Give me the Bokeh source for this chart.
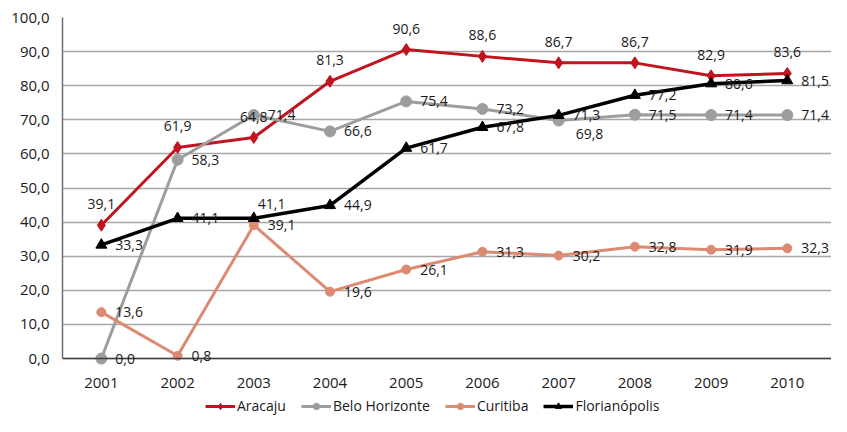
from bokeh.plotting import figure
from bokeh.models import (ColumnDataSource, LabelSet, Legend, LegendItem,
                          CustomJSTickFormatter, FixedTicker, Range1d, LinearAxis)
from bokeh.core.properties import value
from bokeh.embed import file_html
from bokeh.resources import INLINE

years = [2001, 2002, 2003, 2004, 2005, 2006, 2007, 2008, 2009, 2010]
aracaju = [39.1, 61.9, 64.8, 81.3, 90.6, 88.6, 86.7, 86.7, 82.9, 83.6]
belo_horizonte = [0.0, 58.3, 71.4, 66.6, 75.4, 73.2, 69.8, 71.5, 71.4, 71.4]
curitiba = [13.6, 0.8, 39.1, 19.6, 26.1, 31.3, 30.2, 32.8, 31.9, 32.3]
florianopolis = [33.3, 41.1, 41.1, 44.9, 61.7, 67.8, 71.3, 77.2, 80.6, 81.5]
y_ticks = [0, 10, 20, 30, 40, 50, 60, 70, 80, 90, 100]

# label placement (screen pixels), kept apart from the data
off_ara = ([0] * 10, [21] * 10)
off_belo = ([14, 14, 14, 14, 14, 14, 17, 14, 14, 14], [0, 0, 0, 0, 0, 0, -14, 0, 0, 0])
off_curi = ([14] * 10, [0] * 10)
off_flo = ([14, 14, 4, 14, 14, 14, 14, 14, 14, 14], [0, 0, 14, 0, 0, 0, 0, 0, 0, 0])

FONT = "Open Sans"
TXT = "#1a1a1a"

# The frame reaches the bottom of the canvas so that the x-axis (fixed at 0),
# the labels near 0 and the legend are all drawn inside it without clipping.
p = figure(width=831, height=416, output_backend="svg", toolbar_location=None,
           x_range=Range1d(2000.49, 2010.58), y_range=Range1d(-17.0, 100),
           x_axis_location=None, y_axis_location=None,
           min_border_left=62, min_border_right=0, min_border_top=17, min_border_bottom=0)
p.outline_line_color = None
p.background_fill_color = "white"
p.border_fill_color = "white"

yax = LinearAxis(ticker=FixedTicker(ticks=y_ticks), bounds=(0, 100),
                 formatter=CustomJSTickFormatter(code="return tick.toFixed(1).replace('.', ',');"))
yax.axis_line_color = "#6e6e6e"
yax.axis_line_width = 1.5
yax.major_label_standoff = 7
p.add_layout(yax, "left")

xax = LinearAxis(ticker=FixedTicker(ticks=years), fixed_location=0,
                 formatter=CustomJSTickFormatter(code="return tick.toFixed(0);"))
xax.axis_line_color = "#404040"
xax.axis_line_width = 1.5
xax.major_label_standoff = 13
p.add_layout(xax, "below")

for ax in (xax, yax):
    ax.major_tick_line_color = None
    ax.minor_tick_line_color = None
    ax.major_label_text_font = FONT
    ax.major_label_text_font_size = "15px"
    ax.major_label_text_color = TXT

p.xgrid.grid_line_color = None
p.ygrid.ticker = FixedTicker(ticks=y_ticks)
p.ygrid.grid_line_color = "#a6a6a6"
p.ygrid.grid_line_width = 1.5

series = [
    ("Aracaju", aracaju, "#c0141f", "diamond", 12, 3, off_ara, "center"),
    ("Belo Horizonte", belo_horizonte, "#9d9d9f", "circle", 11, 3, off_belo, "left"),
    ("Curitiba", curitiba, "#dc8a72", "circle", 9, 3, off_curi, "left"),
    ("Florianópolis", florianopolis, "#000000", "triangle", 11, 3.5, off_flo, "left"),
]

items = []
for name, vals, color, marker, size, lw, offs, align in series:
    src = ColumnDataSource(dict(x=years, y=vals,
                                txt=[f"{v:.1f}".replace(".", ",") for v in vals],
                                xo=offs[0], yo=offs[1]))
    r1 = p.line("x", "y", source=src, line_color=color, line_width=lw)
    r2 = p.scatter("x", "y", source=src, marker=marker, size=size,
                   fill_color=color, line_color=color)
    items.append(LegendItem(label=name, renderers=[r1, r2]))
    labels = LabelSet(x="x", y="y", text="txt", source=src, x_offset="xo", y_offset="yo",
                      text_align=align, text_baseline="middle", text_font=value(FONT),
                      text_font_size=value("14px"), text_color=TXT)
    p.add_layout(labels)

legend = Legend(items=items, orientation="horizontal", location=(143, 1),
                label_text_font=FONT, label_text_font_size="14px", label_text_color=TXT,
                glyph_width=30, glyph_height=16, label_standoff=2, spacing=15,
                label_height=16, padding=0, margin=0, border_line_color=None,
                background_fill_alpha=0)
p.add_layout(legend, "center")

open("out.html", "w").write(file_html(p, INLINE))
